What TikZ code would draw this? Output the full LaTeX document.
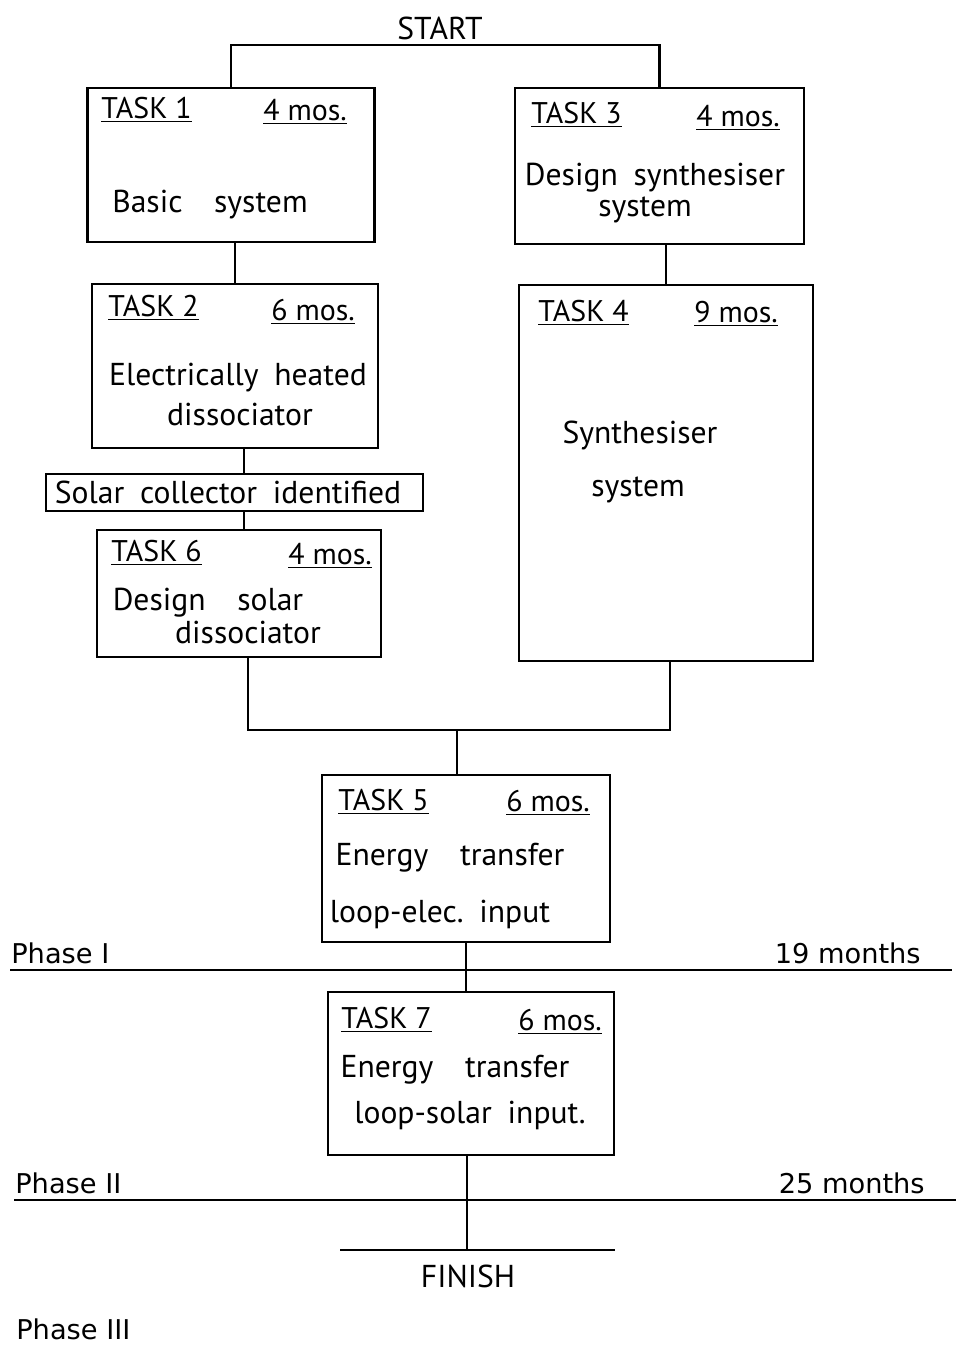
\documentclass[tikz,border=0pt]{standalone}
\usepackage{fontspec}
\setmainfont{PT Sans}
\newfontfamily\phasefont{DejaVu Sans}

\begin{document}
\begin{tikzpicture}[
  x=0.2mm, y=-0.2mm,
  line width=1.5pt,
  task/.style={rectangle, draw, line width=1.6pt, inner sep=0pt},
  hd/.style={font=\fontsize{17}{20}\selectfont, inner sep=0pt, anchor=west},
  txt/.style={font=\fontsize{18}{22}\selectfont, inner sep=0pt, align=center},
  phase/.style={font=\phasefont\fontsize{15.5}{18}\selectfont, inner sep=0pt}
]
\useasboundingbox (0,0) rectangle (956,1346);

% task boxes
\node[task, minimum width=57.4mm, minimum height=30.8mm] (t1) at (231,165) {};
\node[task, minimum width=57.8mm, minimum height=31.2mm] (t3) at (659.5,166) {};
\node[task, minimum width=57.2mm, minimum height=32.8mm] (t2) at (235,366) {};
\node[task, minimum width=75.4mm, minimum height=7.4mm] (solar) at (234.5,492.5) {};
\node[task, minimum width=56.8mm, minimum height=25.4mm] (t6) at (239,593.5) {};
\node[task, minimum width=58.8mm, minimum height=75.2mm] (t4) at (666,473) {};
\node[task, minimum width=57.6mm, minimum height=33.4mm] (t5) at (466,858.5) {};
\node[task, minimum width=57.2mm, minimum height=32.6mm] (t7) at (471,1073.5) {};

% headings
\node[hd] (t1h) at (100,110) {\underline{TASK 1}};
\node[hd] (t1m) at (262,112) {\underline{4 mos.}};
\node[hd] (t3h) at (530,115) {\underline{TASK 3}};
\node[hd] (t3m) at (695,118) {\underline{4 mos.}};
\node[hd] (t2h) at (107,308) {\underline{TASK 2}};
\node[hd] (t2m) at (270,312) {\underline{6 mos.}};
\node[hd] (t4h) at (537,313) {\underline{TASK 4}};
\node[hd] (t4m) at (693,314) {\underline{9 mos.}};
\node[hd] (t6h) at (110,553) {\underline{TASK 6}};
\node[hd] (t6m) at (287,556) {\underline{4 mos.}};
\node[hd] (t5h) at (337,802) {\underline{TASK 5}};
\node[hd] (t5m) at (505,803) {\underline{6 mos.}};
\node[hd] (t7h) at (340,1020) {\underline{TASK 7}};
\node[hd] (t7m) at (517,1022) {\underline{6 mos.}};

% descriptions
\node[txt] (t1d) at (210,205) {Basic\quad system};
\node[txt] (t3d) at (655,178) {Design\enspace synthesiser};
\node[txt] (t3e) at (645,210) {system};
\node[txt] (t2d) at (238,378) {Electrically\enspace heated};
\node[txt] (t2e) at (240,414) {dissociator};
\node[txt] (sold) at (228,492) {Solar\enspace collector\enspace identified};
\node[txt] (t6d) at (208,603) {Design\quad solar};
\node[txt] (t6e) at (248,632) {dissociator};
\node[txt] (t4d) at (640,435) {Synthesiser};
\node[txt] (t4e) at (638,490) {system};
\node[txt] (t5d) at (450,858) {Energy\quad transfer};
\node[txt] (t5e) at (440,914) {loop-elec.\enspace input};
\node[txt] (t7d) at (455,1070) {Energy\quad transfer};
\node[txt] (t7e) at (470,1115) {loop-solar\enspace input.};

% start and finish
\node[txt] (start) at (440,28) {START};
\coordinate (top) at (440,45);
\node[txt] (finish) at (468,1276) {FINISH};
\coordinate (fin) at (467,1250);
\coordinate (finl) at (340,1250);
\coordinate (finr) at (615,1250);
\coordinate (join) at (457,730);

% connectors
\draw (t1.north) |- (top) -| (t3.north);
\draw (t1.south -| t2.north) -- (t2.north);
\draw ([xshift=1.9mm]solar.north) -- ([xshift=1.9mm]solar.north |- t2.south);
\draw ([xshift=1.9mm]solar.south) -- ([xshift=1.9mm]solar.south |- t6.north);
\draw (t4.north) -- (t4.north |- t3.south);
\draw ([xshift=1.8mm]t6.south) |- (join) -| ([xshift=0.8mm]t4.south);
\draw (join) -- (join |- t5.north);
\draw (t5.south) -- (t5.south |- t7.north);
\draw ([xshift=-0.8mm]t7.south) -- ([xshift=-0.8mm]t7.south |- fin);
\draw (finl) -- (finr);

% phases
\coordinate (p1l) at (10,970);
\coordinate (p1r) at (952,970);
\coordinate (p2l) at (14,1200);
\coordinate (p2r) at (956,1200);
\draw (p1l) -- (p1r);
\draw (p2l) -- (p2r);
\node[phase, anchor=base west] (ph1) at (10,963) {Phase I};
\node[phase, anchor=base east] (ph1m) at (922,963) {19 months};
\node[phase, anchor=base west] (ph2) at (14,1193) {Phase II};
\node[phase, anchor=base east] (ph2m) at (926,1193) {25 months};
\node[phase, anchor=base west] (ph3) at (15,1339) {Phase III};
\end{tikzpicture}
\end{document}
